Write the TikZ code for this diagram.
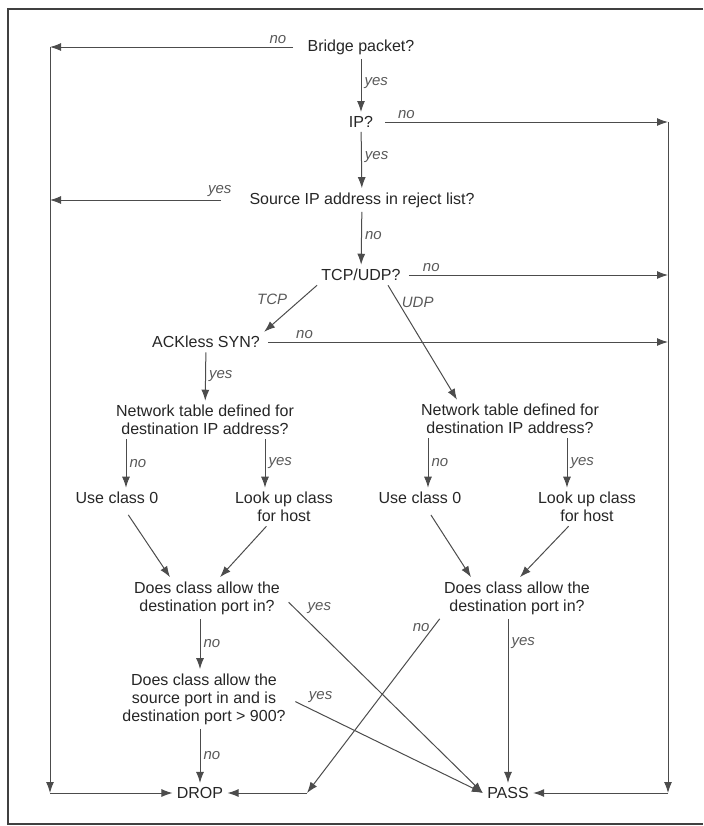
\documentclass[tikz,border=0pt]{standalone}
\usepackage{fontspec}
\setmainfont{Liberation Sans}
\usetikzlibrary{arrows.meta,calc}

\begin{document}
\begin{tikzpicture}[
    x=0.5pt, y=-0.5pt,
    every node/.style={font=\fontsize{8}{9}\selectfont, text=black!85, inner sep=2pt, align=center},
    lbl/.style={font=\fontsize{7.5}{9}\selectfont\itshape, text=black!65, inner sep=1.5pt},
    arr/.style={draw=black!70, line width=0.5pt, -{Latex[length=5.5pt,width=4pt]}} % Pfeil-Stil
]
\useasboundingbox (0,0) rectangle (703,826);
\draw[black!75, line width=0.7pt] (703,9) -- (8,9) -- (8,824) -- (703,824);

% Fragen
\node (bridge) at (361,47) {Bridge packet?};
\node (ip) at (361,122) {IP?};
\node (src) at (362,200) {Source IP address in reject list?};
\node (tcpudp) at (361,275) {TCP/UDP?};
\node (ackless) at (206,342) {ACKless SYN?};
\node (nettabL) at (205,420) {Network table defined for\\destination IP address?};
\node (nettabR) at (510,419) {Network table defined for\\destination IP address?};
\node (useL) at (117,498) {Use class 0};
\node (lookL) at (284,507) {Look up class\\for host};
\node (useR) at (420,498) {Use class 0};
\node (lookR) at (587,507) {Look up class\\for host};
\node (allowL) at (207,598) {Does class allow the\\destination port in?};
\node (allowR) at (517,598) {Does class allow the\\destination port in?};
\node (srcport) at (204,699) {Does class allow the\\source port in and is\\destination port > 900?};
\node (drop) at (200,793) {DROP};
\node (pass) at (508,793) {PASS};

% Ecken
\coordinate (tl) at (50,47);
\coordinate (bl) at (50,793);
\coordinate (tr) at (668,122);
\coordinate (br) at (668,793);
\coordinate (dc) at (307,793);

% Hauptweg
\draw[arr] (bridge) -- node[lbl, right, pos=0.45]{yes} (ip);
\draw[arr] (ip) -- node[lbl, right, pos=0.45]{yes} (src);
\draw[arr] (src) -- node[lbl, right, pos=0.45]{no} (tcpudp);

% links nach DROP
\draw[arr, shorten <=5pt] (bridge) -- node[lbl, above, pos=0.1]{no} (tl);
\draw[arr, shorten <=12pt] (src) -- node[lbl, above, pos=0.13]{yes} (src -| tl);
\draw[arr] (tl) -- (bl);
\draw[arr] (bl) -- (drop);

% rechts nach PASS
\draw[arr, shorten <=4pt] (ip) -- node[lbl, above, pos=0.1]{no} (tr);
\draw[arr, shorten <=2pt] (tcpudp) -- node[lbl, above, pos=0.1]{no} (tcpudp -| tr);
\draw[arr, shorten <=2pt] (ackless) -- node[lbl, above, pos=0.1]{no} (ackless -| tr);
\draw[arr] (tr) -- (br);
\draw[arr] (br) -- (pass);

% TCP / UDP
\draw[arr] (tcpudp.south west) -- node[lbl, above left]{TCP} (ackless.north east);
\draw[arr] ($(tcpudp.south)+(27,0)$) -- node[lbl, pos=0.15, right]{UDP} ($(nettabR.north)+(-53,0)$);
\draw[arr] (ackless) -- node[lbl, right]{yes} (nettabL);

% Netzwerktabellen
\draw[arr] ($(nettabL.south -| useL)+(9,0)$) -- node[lbl, right]{no} ($(useL.north)+(9,0)$);
\draw[arr] ($(nettabL.south -| lookL)+(-19,0)$) -- node[lbl, right]{yes} ($(lookL.north)+(-19,0)$);
\draw[arr] ($(nettabR.south -| useR)+(8,0)$) -- node[lbl, right]{no} ($(useR.north)+(8,0)$);
\draw[arr] ($(nettabR.south -| lookR)+(-20,0)$) -- node[lbl, right]{yes} ($(lookR.north)+(-20,0)$);

\draw[arr, shorten <=4pt] (useL) -- ($(allowL.north)+(-37,0)$);
\draw[arr] (lookL) -- ($(allowL.north)+(13,0)$);
\draw[arr, shorten <=4pt] (useR) -- ($(allowR.north)+(-46,0)$);
\draw[arr] (lookR) -- ($(allowR.north)+(3,0)$);

% Ports
\draw[arr] (allowL.south -| drop) -- node[lbl, right]{no} (srcport.north -| drop);
\draw[arr] (srcport.south -| drop) -- node[lbl, right]{no} (drop);
\draw[arr] (allowR.south -| pass) -- node[lbl, right, pos=0.15]{yes} (pass);
\draw[arr, shorten <=3pt] (allowL.east) -- node[lbl, pos=0.1, above right]{yes} (pass.west);
\draw[arr, shorten <=3pt] (srcport.east) -- node[lbl, pos=0.08, above right]{yes} (pass.west);
\draw[arr] (allowR.south west) -- node[lbl, pos=0.05, left]{no} (dc);
\draw[arr] (dc) -- (drop);

\end{tikzpicture}
\end{document}
